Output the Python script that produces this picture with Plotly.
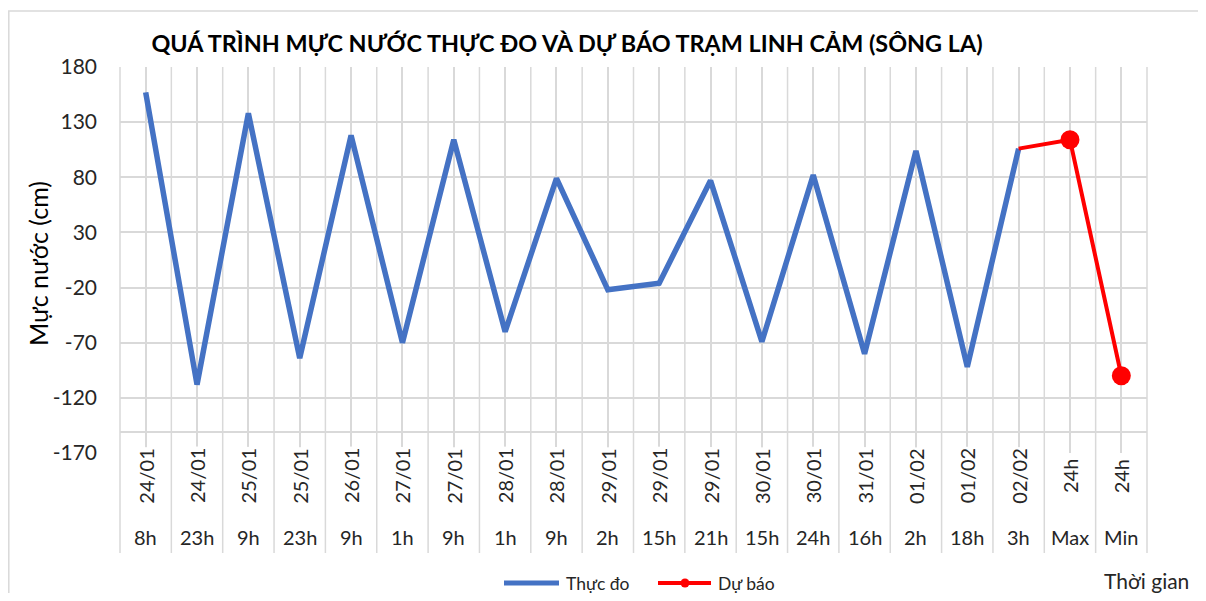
import plotly.graph_objects as go

# ---------------- data ----------------
dates = ["24/01", "24/01", "25/01", "25/01", "26/01", "27/01", "27/01", "28/01", "28/01",
         "29/01", "29/01", "29/01", "30/01", "30/01", "31/01", "01/02", "01/02", "02/02",
         "24h", "24h"]
hours = ["8h", "23h", "9h", "23h", "9h", "1h", "9h", "1h", "9h", "2h", "15h", "21h",
         "15h", "24h", "16h", "2h", "18h", "3h", "Max", "Min"]
observed = [157, -108, 138, -84, 118, -70, 114, -60, 79, -22, -16, 77, -69, 82, -80, 104, -92, 106]
forecast = [106, 114, -100]
forecast_start = 17  # forecast begins at the last observed category (02/02 3h)

y_ticks = [-170, -120, -70, -20, 30, 80, 130, 180]
y_ticktext = [str(v) for v in y_ticks]

series_names = ["Thực đo", "Dự báo"]
BLUE, RED = "#4472C4", "#FF0000"

# ---------------- layout geometry ----------------
# page has an 8px body margin; figure sized to fit exactly in the 1206x601 window
OFF = 8
W, H = 1190, 585
L, R, T, B = 112, 51, 59, 140
PW, PH = W - L - R, H - T - B


def xp(px):  # page pixel -> paper x
    return (px - OFF - L) / PW


def yp(py):  # page pixel -> paper y
    return (H - B - (py - OFF)) / PH


def xc(px):  # page pixel -> container x
    return (px - OFF) / W


def yc(py):  # page pixel -> container y
    return 1 - (py - OFF) / H


FONT = "Lato"
TXT = "#262626"
GRID = "#d9d9d9"

n = len(hours)
x_obs = list(range(len(observed)))
x_fc = list(range(forecast_start, forecast_start + len(forecast)))

fig = go.Figure()
fig.add_trace(go.Scatter(
    x=x_obs, y=observed, mode="lines", name=series_names[0],
    line=dict(color=BLUE, width=5.5), showlegend=False,
))
fig.add_trace(go.Scatter(
    x=x_fc, y=forecast, mode="lines+markers", name=series_names[1],
    line=dict(color=RED, width=4), showlegend=False,
    marker=dict(color=RED, size=[0, 19, 19], opacity=1, line=dict(width=0)),
))

shapes = []
# horizontal axis line (category axis crossing)
shapes.append(dict(type="line", xref="paper", yref="paper", x0=0, x1=1,
                   y0=yp(432), y1=yp(432), line=dict(color=GRID, width=2), layer="below"))
# category boundary lines (extend through the label box)
for k in range(n + 1):
    shapes.append(dict(type="line", xref="paper", yref="paper", x0=k / n, x1=k / n,
                       y0=yp(553), y1=1, line=dict(color=GRID, width=1.5), layer="below"))
# outer chart border
shapes.append(dict(type="rect", xref="paper", yref="paper", x0=xp(8.8), x1=xp(1260),
                   y0=yp(700), y1=yp(11), line=dict(color=GRID, width=1.5),
                   fillcolor="rgba(0,0,0,0)", layer="below"))

# legend (drawn like the Excel legend: long line glyphs)
LEG_Y = 583
shapes.append(dict(type="line", xref="paper", yref="paper", x0=xp(504), x1=xp(559),
                   y0=yp(LEG_Y), y1=yp(LEG_Y), line=dict(color=BLUE, width=5)))
shapes.append(dict(type="line", xref="paper", yref="paper", x0=xp(658), x1=xp(711),
                   y0=yp(LEG_Y), y1=yp(LEG_Y), line=dict(color=RED, width=4)))
shapes.append(dict(type="circle", xref="paper", yref="paper", x0=xp(680.5), x1=xp(689.5),
                   y0=yp(LEG_Y + 4.5), y1=yp(LEG_Y - 4.5), fillcolor=RED,
                   line=dict(color=RED, width=0)))

annotations = []
for i, (d, h) in enumerate(zip(dates, hours)):
    annotations.append(dict(x=i, xref="x", y=yp(476), yref="paper", text=d, textangle=-90,
                            xanchor="center", yanchor="middle",
                            showarrow=False, bgcolor="white",
                            font=dict(family=FONT, size=20, color=TXT)))
    annotations.append(dict(x=i, xref="x", y=yp(537), yref="paper", text=h,
                            xanchor="center", yanchor="middle",
                            showarrow=False, font=dict(family=FONT, size=20, color=TXT)))
annotations.append(dict(x=xp(38), y=yp(264), xref="paper", yref="paper", text="Mực nước (cm)",
                        textangle=-90, showarrow=False, xanchor="center", yanchor="middle",
                        font=dict(family=FONT, size=25, color="#000000")))
annotations.append(dict(x=xp(1146), y=yp(580), xref="paper", yref="paper", text="Thời gian",
                        showarrow=False, xanchor="center", yanchor="middle",
                        font=dict(family=FONT, size=21, color=TXT)))
annotations.append(dict(x=xp(564), y=yp(LEG_Y), xref="paper", yref="paper", text=series_names[0],
                        showarrow=False, xanchor="left", yanchor="middle",
                        font=dict(family=FONT, size=17.5, color=TXT)))
annotations.append(dict(x=xp(716), y=yp(LEG_Y), xref="paper", yref="paper", text=series_names[1],
                        showarrow=False, xanchor="left", yanchor="middle",
                        font=dict(family=FONT, size=17.5, color=TXT)))

fig.update_layout(
    width=W, height=H,
    margin=dict(l=L, r=R, t=T, b=B),
    paper_bgcolor="white", plot_bgcolor="white",
    title=dict(text="<b>QUÁ TRÌNH MỰC NƯỚC THỰC ĐO VÀ DỰ BÁO TRẠM LINH CẢM (SÔNG LA)</b>",
               x=xc(567), xanchor="center", xref="container",
               y=yc(44), yanchor="middle", yref="container",
               font=dict(family=FONT, size=23.4, color="#000000")),
    xaxis=dict(range=[-0.5, n - 0.5], showticklabels=False, showgrid=True, gridcolor=GRID,
               gridwidth=1.5, tick0=0, dtick=1, zeroline=False, showline=False, ticks=""),
    yaxis=dict(range=[-170, 180], tickvals=y_ticks, ticktext=y_ticktext, showgrid=True,
               gridcolor=GRID, gridwidth=1.5, zeroline=False, showline=False, ticks="",
               ticklabelstandoff=22,
               tickfont=dict(family=FONT, size=21, color=TXT)),
    showlegend=False,
    shapes=shapes,
    annotations=annotations,
)

fig.write_html("out.html")
